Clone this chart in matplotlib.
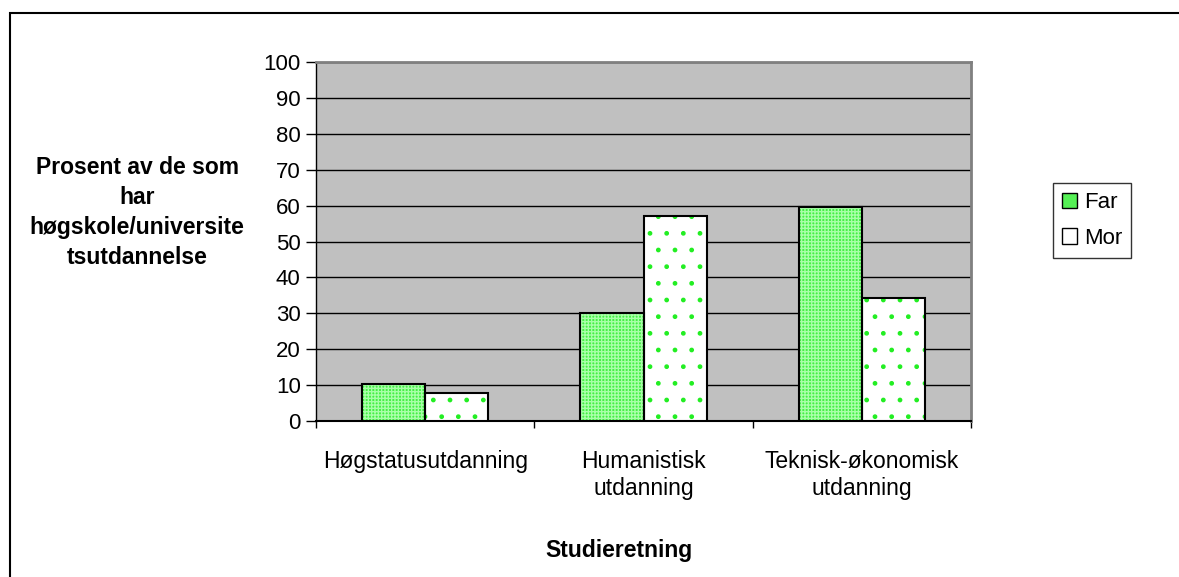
import matplotlib
matplotlib.use("Agg")
import matplotlib.pyplot as plt
from matplotlib.patches import Rectangle, Patch
import numpy as np

categories = ["Høgstatusutdanning", "Humanistisk\nutdanning", "Teknisk-økonomisk\nutdanning"]
far = [10.3, 30.0, 59.5]
mor = [7.8, 57.0, 34.2]
series_names = ["Far", "Mor"]
yticks = list(range(0, 101, 10))

plt.rcParams['font.family'] = ['Liberation Sans', 'DejaVu Sans']

W, H = 1179, 577
fig = plt.figure(figsize=(W/100, H/100), dpi=100)
ax = fig.add_axes([316/W, 1-421/H, (971-316)/W, (421-62)/H])
ax.set_facecolor('#C0C0C0')

x = np.arange(len(categories))
bw = 0.29
# Far: green checker
with plt.rc_context({'hatch.linewidth': 1.0}):
    ax.bar(x - bw/2, far, bw, color='#44F044', edgecolor='#A8FFA8', hatch='+++++', linewidth=0, zorder=3)
ax.bar(x - bw/2, far, bw, fill=False, edgecolor='black', linewidth=1.5, zorder=4)
# Mor: white with green dots
with plt.rc_context({'hatch.linewidth': 1.0}):
    ax.bar(x + bw/2, mor, bw, color='white', edgecolor='#22EE22', hatch='.', linewidth=0, zorder=3)
ax.bar(x + bw/2, mor, bw, fill=False, edgecolor='black', linewidth=1.5, zorder=4)

ax.set_xlim(-0.5, len(categories) - 0.5)
ax.set_ylim(0, 100)
ax.set_yticks(yticks)
ax.set_yticklabels([str(t) for t in yticks], fontsize=16)
ax.yaxis.grid(True, color='black', linewidth=1.0, zorder=1)
ax.set_axisbelow(True)
ax.set_xticks(x)
ax.set_xticklabels(categories, fontsize=16.5, linespacing=1.2)
ax.tick_params(axis='x', length=0, pad=21)
ax.set_xticks(np.arange(-0.5, len(categories), 1.0), minor=True)
ax.tick_params(axis='x', which='minor', length=5, direction='out', width=1)
ax.tick_params(axis='y', length=7, width=1, direction='out', pad=4)

for s in ['top', 'right']:
    ax.spines[s].set_color('#808080')
    ax.spines[s].set_linewidth(2)
ax.spines['left'].set_color('black')
ax.spines['bottom'].set_color('black')
ax.spines['left'].set_linewidth(1)
ax.spines['bottom'].set_linewidth(1.5)

fig.text(137/W, 1-212.5/H, "Prosent av de som\nhar\nhøgskole/universite\ntsutdannelse",
         ha='center', va='center', fontsize=16.5, fontweight='bold', linespacing=1.39)
fig.text(619/W, 1-551/H, "Studieretning", ha='center', va='center', fontsize=16.5, fontweight='bold')

handles = [Patch(facecolor='#55F055', edgecolor='black'),
           Patch(facecolor='white', edgecolor='black')]
leg = fig.legend(handles, series_names, loc='center', bbox_to_anchor=(1092/W, 1-220.5/H),
                 fontsize=16, frameon=True, fancybox=False, edgecolor='black',
                 handlelength=0.7, handleheight=0.7, handletextpad=0.3, borderpad=0.4,
                 labelspacing=0.65, borderaxespad=0)
leg.get_frame().set_linewidth(1)

fig.patches.append(Rectangle((10/W, -0.1), 1.2, 1.1 - 13/H, transform=fig.transFigure,
                             fill=False, edgecolor='black', linewidth=1.5, zorder=0))

fig.savefig("out.png", dpi=100)
